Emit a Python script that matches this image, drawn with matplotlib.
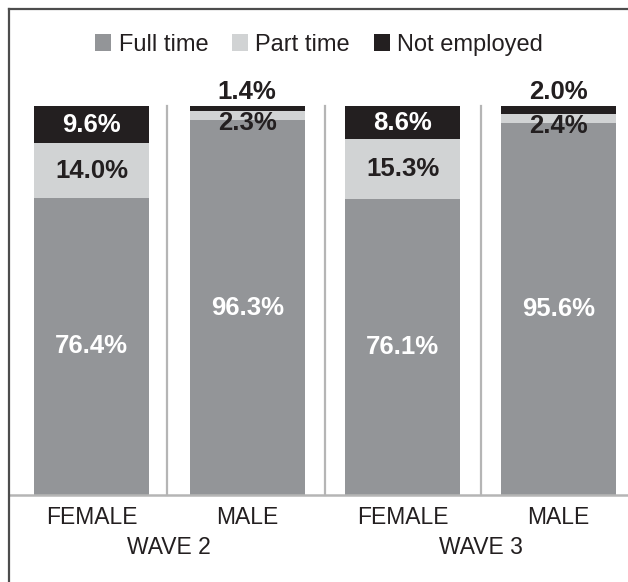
import matplotlib
matplotlib.use("Agg")
import matplotlib.pyplot as plt
from matplotlib.patches import Patch
from matplotlib.lines import Line2D

plt.rcParams['font.family'] = ['Liberation Sans', 'DejaVu Sans']

# Data
genders   = ["FEMALE", "MALE", "FEMALE", "MALE"]
waves     = ["WAVE 2", "WAVE 3"]
full_time = [76.4, 96.3, 76.1, 95.6]
part_time = [14.0, 2.3, 15.3, 2.4]
not_empl  = [9.6, 1.4, 8.6, 2.0]

C_FULL = "#939598"
C_PART = "#d1d3d4"
C_NOT  = "#231f20"
C_SEP  = "#b5b5b5"

W, H = 628, 582
fig = plt.figure(figsize=(W / 100, H / 100), dpi=100)

# axes placed in pixel terms: baseline at y=495, 100% at y=106
ax = fig.add_axes([9 / W, (H - 495) / H, 1 - 9 / W, (495 - 106) / H])
ax.set_xlim(-0.53, 3.447)
ax.set_ylim(0, 100)
ax.axis("off")

x = list(range(len(genders)))
bw = 0.739
bottom2 = [f + p for f, p in zip(full_time, part_time)]
ax.bar(x, full_time, width=bw, color=C_FULL)
ax.bar(x, part_time, width=bw, bottom=full_time, color=C_PART)
ax.bar(x, not_empl, width=bw, bottom=bottom2, color=C_NOT)

# separators and baseline
for s in [0.485, 1.5, 2.5]:
    ax.plot([s, s], [0, 100], color=C_SEP, lw=1.6, clip_on=False)
ax.plot([-0.53, 3.447], [0, 0], color=C_SEP, lw=1.8, clip_on=False)

lab = dict(fontsize=18.5, fontweight="bold", ha="center", va="center")
for i in x:
    ax.text(i, full_time[i] / 2, f"{full_time[i]:.1f}%", color="white", **lab)
    if part_time[i] > 5:
        ax.text(i, full_time[i] + part_time[i] / 2, f"{part_time[i]:.1f}%",
                color=C_NOT, **lab)
        ax.text(i, bottom2[i] + not_empl[i] / 2, f"{not_empl[i]:.1f}%",
                color="white", **lab)
    else:
        ax.annotate(f"{part_time[i]:.1f}%", (i, bottom2[i]), xytext=(0, -8.5),
                    textcoords="offset points", color=C_NOT, **lab)
        ax.annotate(f"{not_empl[i]:.1f}%", (i, 100), xytext=(0, 10),
                    textcoords="offset points", color=C_NOT,
                    annotation_clip=False, **lab)

# category labels
for i, g in enumerate(genders):
    ax.annotate(g, (i, 0), xytext=(0, -16), textcoords="offset points",
                ha="center", va="center", fontsize=16.5, color=C_NOT,
                annotation_clip=False)
for j, w in enumerate(waves):
    ax.annotate(w, (2 * j + 0.5, 0), xytext=(0, -38), textcoords="offset points",
                ha="center", va="center", fontsize=16.5, color=C_NOT,
                annotation_clip=False)

# legend
handles = [Patch(facecolor=C_FULL, label="Full time"),
           Patch(facecolor=C_PART, label="Part time"),
           Patch(facecolor=C_NOT, label="Not employed")]
fig.legend(handles=handles, loc="center", bbox_to_anchor=(0.508, 1 - 45 / H),
           ncol=3, frameon=False, fontsize=17, handlelength=0.7, handleheight=0.7,
           handletextpad=0.3, columnspacing=1.0, labelcolor=C_NOT)

# frame lines (left and top)
fig.add_artist(Line2D([9 / W, 9 / W], [0, 1 - 9 / H], color="#4d4d4d", lw=1.6))
fig.add_artist(Line2D([9 / W, 1], [1 - 9 / H, 1 - 9 / H], color="#4d4d4d", lw=1.6))

fig.savefig("out.png", dpi=100)
